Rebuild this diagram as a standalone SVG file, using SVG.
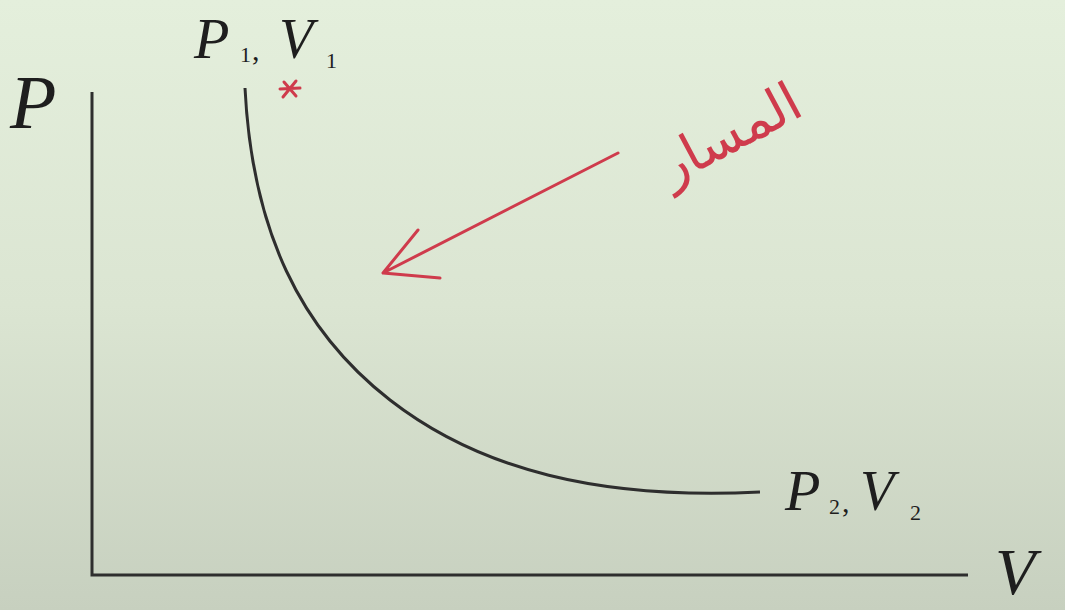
<svg xmlns="http://www.w3.org/2000/svg" width="1065" height="610" viewBox="0 0 1065 610">
<defs>
<linearGradient id="bg" x1="0" y1="0" x2="0" y2="1">
<stop offset="0" stop-color="#e4efdc"/>
<stop offset="0.5" stop-color="#dbe5d2"/>
<stop offset="1" stop-color="#c7d0bf"/>
</linearGradient>
<style>
.ax{stroke:#2e2e2e;stroke-width:3;fill:none}
.lbl{font-family:"Liberation Serif",serif;font-style:italic;fill:#1e1e1e}
.sub{font-family:"Liberation Serif",serif;fill:#1e1e1e}
.red{stroke:#cf3b4c;stroke-width:3;fill:none;stroke-linecap:round;stroke-linejoin:round}
</style>
</defs>
<rect width="1065" height="610" fill="url(#bg)"/>
<g id="axes">
<path class="ax" d="M92,92 V575 H968"/>
<text class="lbl" x="10" y="128" font-size="76">P</text>
<text class="lbl" x="995" y="594" font-size="66">V</text>
</g>
<g id="curve">
<path class="ax" stroke-width="2.5" d="M245,88 C252,230 300,330 390,400 S600,500 760,492"/>
</g>
<g id="label-p1v1">
<text class="lbl" x="194" y="58" font-size="58">P</text>
<text class="sub" x="240" y="62" font-size="22">1</text>
<text class="sub" x="252" y="60" font-size="30">,</text>
<text class="lbl" x="279" y="58" font-size="56">V</text>
<text class="sub" x="326" y="68" font-size="22">1</text>
</g>
<g id="label-p2v2">
<text class="lbl" x="785" y="510" font-size="58">P</text>
<text class="sub" x="829" y="514" font-size="22">2</text>
<text class="sub" x="842" y="512" font-size="30">,</text>
<text class="lbl" x="860" y="510" font-size="56">V</text>
<text class="sub" x="910" y="520" font-size="22">2</text>
</g>
<g id="annotation">
<path class="red" stroke-width="2.5" d="M280,89 L300,88 M283,97 L296,81 M284,82 L296,96"/>
<path class="red" d="M618,153 L383,273 M418,230 L383,273 L440,278"/>
<text x="0" y="0" font-family="DejaVu Sans, sans-serif" font-size="54" fill="#cf3b4c" text-anchor="middle" transform="translate(738,150) rotate(-28)">المسار</text>
</g>
</svg>
